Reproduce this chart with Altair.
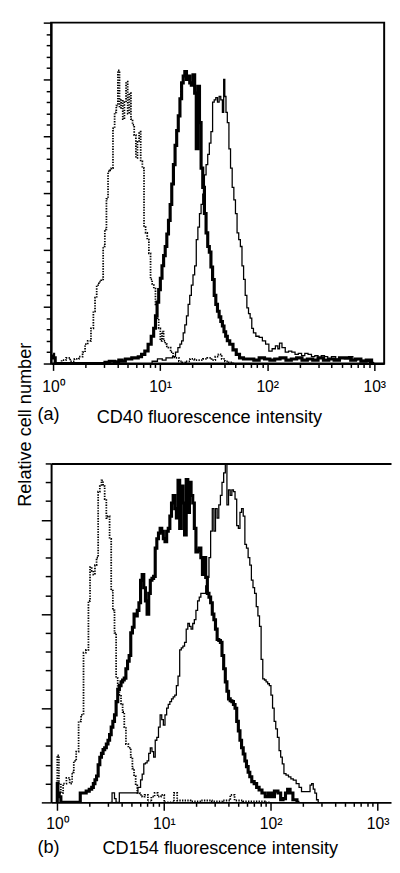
import numpy as np
import pandas as pd
import altair as alt

FONT = "Liberation Sans"

# ---------------- Panel (a): CD40 ----------------
# log10(fluorescence intensity) and relative cell count
a_iso_log = [0.00, 0.06, 0.10, 0.14, 0.18, 0.22, 0.262, 0.29, 0.308, 0.339, 0.369, 0.384, 0.40, 0.415, 0.44, 0.46,
             0.476, 0.491, 0.506, 0.521, 0.537, 0.552, 0.567, 0.583, 0.598, 0.613, 0.628, 0.643, 0.659, 0.674,
             0.689, 0.705, 0.72, 0.735, 0.75, 0.766, 0.781, 0.796, 0.811, 0.826, 0.842, 0.857, 0.872, 0.887,
             0.903, 0.918, 0.933, 0.949, 0.964, 0.979, 0.994, 1.01, 1.025, 1.04, 1.055, 1.07, 1.086, 1.11,
             1.132, 1.16, 1.19, 1.22, 1.26, 1.30, 1.34, 1.38, 1.42, 1.46, 1.50, 1.53, 1.56, 1.59, 1.62, 1.66, 1.70]
a_iso_cnt = [0, 0, 0.3, 0.5, 0.2, 0.4, 0.6, 1.0, 1.7, 2.0, 3.1, 4.6, 5.8, 6.9, 7.2, 7.4,
             10.3, 11.8, 14.5, 16.9, 17.0, 17.2, 20.7, 22.1, 22.7, 25.8, 22.5, 23.2, 21.5, 23.0,
             24.8, 22.0, 23.8, 21.5, 21.0, 20.1, 18.1, 19.5, 20.4, 17.8, 17.2, 12.0, 11.5, 10.9,
             9.7, 7.4, 7.0, 6.6, 5.2, 4.0, 3.1, 2.0, 2.8, 2.0, 1.7, 1.5, 1.4, 1.0,
             0.54, 0.5, 0.2, 0.1, 0.2, 0.4, 0.3, 0.3, 0.4, 0.5, 0.3, 0.6, 0.8, 0.4, 0.2, 0.1, 0]

a_thick_log = [0.00, 0.01, 0.03, 0.47, 0.50, 0.55, 0.60, 0.628, 0.66, 0.69, 0.72, 0.75, 0.78, 0.811, 0.842,
               0.872, 0.903, 0.93, 0.949, 0.964, 0.979, 0.994, 1.01, 1.025, 1.04, 1.055, 1.07, 1.086, 1.101,
               1.116, 1.132, 1.147, 1.162, 1.177, 1.193, 1.208, 1.223, 1.238, 1.254, 1.269, 1.284, 1.299,
               1.315, 1.33, 1.345, 1.36, 1.375, 1.39, 1.406, 1.421, 1.437, 1.452, 1.467, 1.482, 1.498,
               1.512, 1.528, 1.543, 1.559, 1.574, 1.589, 1.604, 1.62, 1.635, 1.665, 1.696, 1.726, 1.757,
               1.80, 1.85, 1.90, 1.95, 2.00, 2.05, 2.09, 2.15, 2.20, 2.25, 2.30, 2.35, 2.40, 2.45, 2.50,
               2.55, 2.60, 2.65, 2.70, 2.76, 2.80, 2.85, 2.90, 2.95, 3.00]
a_thick_cnt = [0.8, 0.5, 0, 0, 0.1, 0.2, 0.15, 0.3, 0.2, 0.4, 0.4, 0.5, 0.5, 0.6, 0.8,
               1.1, 1.7, 2.4, 3.1, 4.2, 5.4, 6.5, 7.5, 8.6, 9.5, 10.3, 11.4, 12.6, 14.0,
               15.8, 17.5, 19.2, 20.5, 21.8, 23.3, 24.7, 25.3, 25.7, 25.0, 25.3, 24.7, 24.5,
               25.4, 23.8, 18.9, 24.4, 21.2, 17.2, 15.5, 13.2, 11.5, 10.3, 9.8, 8.5, 7.4,
               6.0, 5.2, 4.6, 4.1, 3.7, 3.3, 2.8, 2.4, 2.0, 1.7, 1.2, 0.8, 0.5,
               0.4, 0.4, 0.3, 0.5, 0.4, 0.3, 0.4, 0.5, 0.3, 0.4, 0.5, 0.3, 0.4, 0.3, 0.5,
               0.3, 0.4, 0.3, 0.5, 0.5, 0.3, 0.4, 0.2, 0.3, 0]

a_thin_log = [0.90, 0.95, 1.0, 1.04, 1.07, 1.10, 1.132, 1.155, 1.177, 1.193, 1.208, 1.223, 1.238, 1.254,
              1.269, 1.284, 1.299, 1.315, 1.33, 1.345, 1.36, 1.375, 1.39, 1.406, 1.421, 1.437, 1.452, 1.467,
              1.482, 1.498, 1.512, 1.528, 1.543, 1.559, 1.574, 1.589, 1.598, 1.61, 1.62, 1.635, 1.65, 1.665,
              1.681, 1.696, 1.711, 1.726, 1.742, 1.757, 1.772, 1.787, 1.802, 1.818, 1.833, 1.848, 1.864,
              1.879, 1.909, 1.94, 1.97, 2.00, 2.031, 2.061, 2.092, 2.107, 2.123, 2.153, 2.184, 2.214, 2.245,
              2.275, 2.306, 2.336, 2.366, 2.397, 2.43, 2.46, 2.49, 2.52, 2.55, 2.58, 2.62, 2.66, 2.70, 2.74,
              2.78, 2.82, 2.855, 2.89, 2.93, 2.977, 3.00]
a_thin_cnt = [0, 0.2, 0.4, 0.3, 0.5, 0.5, 0.6, 1.0, 1.4, 1.7, 2.0, 2.7, 3.4, 4.2,
              5.2, 6.0, 6.9, 7.8, 8.6, 10.9, 12.0, 13.2, 14.0, 14.9, 16.6, 17.5, 18.4, 19.4,
              20.4, 23.0, 23.2, 23.4, 23.0, 23.5, 23.2, 22.1, 25.0, 23.5, 22.1, 21.2, 18.9, 17.2,
              15.5, 14.4, 13.2, 11.5, 10.9, 10.3, 8.6, 7.4, 6.0, 4.9, 4.4, 4.0, 3.1,
              2.7, 2.4, 2.3, 2.0, 1.7, 1.1, 1.3, 1.55, 1.3, 1.8, 1.4, 1.0, 1.1, 1.0,
              0.8, 0.9, 0.7, 0.9, 0.8, 0.6, 0.7, 0.5, 0.7, 0.6, 0.4, 0.6, 0.4, 0.5, 0.4,
              0.6, 0.3, 0.4, 0.3, 0.2, 0.1, 0]

# ---------------- Panel (b): CD154 ----------------
b_iso_log = [0.0, 0.006, 0.03, 0.043, 0.073, 0.104, 0.134, 0.15, 0.165, 0.195, 0.21, 0.241, 0.256, 0.287,
             0.302, 0.317, 0.333, 0.348, 0.363, 0.378, 0.393, 0.409, 0.424, 0.439, 0.454, 0.47, 0.485, 0.5,
             0.515, 0.531, 0.546, 0.561, 0.576, 0.592, 0.607, 0.622, 0.638, 0.653, 0.683, 0.698, 0.714,
             0.729, 0.744, 0.759, 0.79, 0.805, 0.836, 0.866, 0.90, 0.927, 0.958, 0.988, 1.02, 1.08, 1.11,
             1.14, 1.20, 1.30, 1.40, 1.50, 1.60, 1.644, 1.68, 1.80, 1.90, 1.99]
b_iso_cnt = [0, 2.5, 1.0, 0.5, 1.0, 1.3, 1.0, 1.6, 2.2, 2.7, 4.3, 4.65, 7.95, 8.1,
             10.7, 12.5, 12.3, 12.1, 12.6, 13.0, 16.5, 16.8, 17.1, 16.8, 16.1, 15.1, 15.2, 14.0,
             11.25, 10.2, 9.0, 6.6, 6.0, 5.7, 5.2, 4.8, 4.0, 3.1, 2.9, 2.4, 1.8,
             1.4, 0.9, 0.5, 0.4, 0.3, 0.4, 0, 0.3, 0.5, 0.3, 0.4, 0, 0, 0.5,
             0.1, 0.1, 0.05, 0.1, 0.05, 0.1, 0.4, 0.1, 0.05, 0.05, 0]

b_thick_log = [0.0, 0.006, 0.012, 0.03, 0.043, 0.21, 0.226, 0.26, 0.287, 0.317, 0.333, 0.348, 0.363, 0.378,
               0.393, 0.409, 0.424, 0.439, 0.454, 0.47, 0.485, 0.5, 0.515, 0.531, 0.546, 0.561, 0.576, 0.592,
               0.607, 0.622, 0.637, 0.653, 0.668, 0.683, 0.698, 0.714, 0.729, 0.744, 0.759, 0.775, 0.79,
               0.805, 0.82, 0.836, 0.851, 0.866, 0.881, 0.897, 0.912, 0.927, 0.942, 0.958, 0.973, 0.988,
               1.003, 1.019, 1.034, 1.049, 1.064, 1.08, 1.095, 1.11, 1.125, 1.141, 1.156, 1.171, 1.186,
               1.202, 1.217, 1.232, 1.247, 1.263, 1.278, 1.293, 1.308, 1.324, 1.339, 1.354, 1.369, 1.384,
               1.4, 1.415, 1.43, 1.446, 1.461, 1.476, 1.491, 1.507, 1.522, 1.537, 1.552, 1.568, 1.583,
               1.598, 1.613, 1.629, 1.644, 1.659, 1.674, 1.69, 1.705, 1.72, 1.735, 1.751, 1.766, 1.781,
               1.797, 1.812, 1.834, 1.857, 1.88, 1.903, 1.934, 1.964, 1.995, 2.02, 2.05, 2.086, 2.101,
               2.13, 2.147, 2.17, 2.193, 2.223, 2.269]
b_thick_cnt = [0, 1.0, 0.5, 0.3, 0, 0, 0.5, 0.5, 0.6, 0.7, 0.8, 1.0, 1.2, 1.4,
               2.0, 2.4, 2.6, 2.8, 2.9, 3.1, 3.3, 3.6, 4.0, 4.3, 4.65, 5.35, 6.0, 6.2,
               6.4, 6.5, 6.6, 7.1, 7.5, 7.8, 9.0, 9.3, 10.0, 9.9, 10.2, 10.6, 11.8,
               12.1, 11.4, 10.7, 10.0, 11.1, 11.8, 11.9, 12.0, 13.5, 14.0, 14.3, 14.55, 14.4,
               14.0, 13.85, 14.4, 14.55, 15.2, 15.9, 16.3, 15.6, 15.1, 17.1, 14.55, 16.8, 15.9,
               14.2, 17.15, 15.4, 17.0, 16.3, 15.9, 14.55, 13.3, 13.4, 13.5, 13.0, 12.1, 13.0,
               11.95, 11.1, 10.9, 10.6, 10.0, 9.7, 9.2, 8.65, 8.6, 8.5, 7.8, 7.1, 6.4,
               5.9, 5.5, 5.4, 5.35, 5.2, 5.0, 4.3, 3.8, 3.3, 2.9, 2.57, 2.2, 1.9,
               1.6, 1.36, 1.1, 1.0, 0.8, 0.66, 0.5, 0.3, 0.5, 0.3, 0.6, 0.5, 0.14,
               0.2, 0.5, 0.7, 0.5, 0.14, 0]

b_thin_log = [0.50, 0.531, 0.546, 0.56, 0.607, 0.64, 0.70, 0.74, 0.775, 0.79, 0.805, 0.82, 0.836, 0.851,
              0.866, 0.881, 0.897, 0.912, 0.927, 0.942, 0.958, 0.973, 0.988, 1.003, 1.019, 1.034, 1.049,
              1.064, 1.08, 1.095, 1.11, 1.125, 1.141, 1.156, 1.171, 1.186, 1.202, 1.217, 1.232, 1.247,
              1.263, 1.278, 1.293, 1.308, 1.324, 1.339, 1.354, 1.369, 1.384, 1.4, 1.415, 1.43, 1.446,
              1.461, 1.476, 1.491, 1.507, 1.522, 1.537, 1.552, 1.568, 1.583, 1.598, 1.613, 1.629, 1.644,
              1.659, 1.674, 1.69, 1.705, 1.72, 1.735, 1.751, 1.766, 1.781, 1.797, 1.812, 1.827, 1.842,
              1.857, 1.873, 1.888, 1.903, 1.918, 1.934, 1.95, 1.964, 1.98, 1.995, 2.01, 2.025, 2.04,
              2.055, 2.071, 2.086, 2.101, 2.116, 2.132, 2.155, 2.178, 2.2, 2.223, 2.254, 2.277, 2.3,
              2.33, 2.361, 2.376, 2.391, 2.406, 2.421, 2.437, 2.452]
b_thin_cnt = [0, 0.5, 0.2, 0, 0.5, 0.5, 0.5, 0.5, 0.8, 1.2, 1.5, 2.05, 2.1, 2.2,
              2.6, 2.9, 2.7, 2.4, 3.3, 3.45, 4.0, 4.65, 4.4, 4.1, 4.65, 5.0, 5.2,
              5.35, 5.5, 5.6, 5.7, 6.2, 6.7, 8.1, 8.2, 8.3, 8.5, 9.2, 9.5, 9.35,
              9.2, 9.5, 9.7, 10.2, 10.7, 10.9, 11.1, 11.1, 11.1, 11.5, 11.95, 13.0, 14.4,
              15.6, 14.4, 15.6, 15.1, 15.8, 16.3, 17.0, 17.5, 18.0, 15.8, 16.6, 16.3, 16.6,
              16.5, 16.1, 14.7, 14.55, 15.4, 15.6, 15.2, 13.7, 13.5, 13.0, 12.6, 11.8, 11.4,
              11.1, 10.4, 9.9, 9.35, 7.6, 6.56, 6.5, 6.4, 6.3, 6.2, 5.7, 5.0, 4.3,
              3.9, 3.45, 2.75, 2.4, 2.05, 1.53, 1.45, 1.36, 1.25, 1.18, 1.0, 0.8, 0.57,
              0.57, 0.57, 0.92, 1.0, 0.7, 0.49, 0.14, 0]

# axis tick values (log decades and their minor subdivisions) and labels
x_tick_values = [k * 10 ** d for d in range(3) for k in range(1, 10)] + [1000]
superscripts = ["\u2070", "\u00b9", "\u00b2", "\u00b3"]

MAJ_X = "abs(log(datum.value)/LN10 - round(log(datum.value)/LN10)) < 0.01"
sup_list = "[" + ",".join("'" + s + "'" for s in superscripts) + "]"
LABEL_X = MAJ_X + " ? '10' + " + sup_list + "[round(log(datum.value)/LN10)] : ''"
MAJ_Y = "datum.value % 5 == 0"


def curve_df(logs, cnts):
    return pd.DataFrame({"intensity": np.power(10.0, np.array(logs, dtype=float)),
                         "count": np.array(cnts, dtype=float)})


def panel(iso, thin, thick, xdomain, ymax, w, h, xtitle, tag, title_x, title_y,
          tag_y, x_major, x_minor, y_major, y_minor, label_pad, boxed, ytitle=None):
    xscale = alt.Scale(type="log", domain=xdomain, nice=False)
    yscale = alt.Scale(domain=[0, ymax], nice=False, zero=True)
    xaxis = alt.Axis(
        values=x_tick_values, labelExpr=LABEL_X, grid=False,
        tickSize={"condition": {"test": MAJ_X, "value": x_major}, "value": x_minor},
        tickWidth=1.5, tickColor="black", domainColor="black", domainWidth=2,
        labelFont=FONT, labelFontSize=16, labelColor="black", labelBaseline="alphabetic",
        labelPadding=label_pad, labelOverlap=False, labelFlush=False, labelBound=False,
        title=xtitle, titleFont=FONT, titleFontSize=18.5, titleFontWeight="normal",
        titleColor="black", titleX=title_x, titleY=title_y, titleAlign="left",
        titleBaseline="alphabetic", titleAngle=0)
    yaxis_kwargs = dict(
        values=list(range(0, ymax + 1)), labels=False, grid=False,
        tickSize={"condition": {"test": MAJ_Y, "value": y_major}, "value": y_minor},
        tickWidth=1.5, tickColor="black", domainColor="black", domainWidth=2)
    if ytitle:
        yaxis = alt.Axis(title=ytitle, titleFont=FONT, titleFontSize=18.5,
                         titleFontWeight="normal", titleColor="black", titleAngle=270,
                         titleX=-21, titleY=410, titleAlign="center",
                         titleBaseline="alphabetic", **yaxis_kwargs)
    else:
        yaxis = alt.Axis(title="", **yaxis_kwargs)

    def line(df, width, dash=None):
        mk = dict(color="black", strokeWidth=width, interpolate="step", clip=True)
        if dash:
            mk["strokeDash"] = dash
        return alt.Chart(df).mark_line(**mk).encode(
            x=alt.X("intensity:Q", scale=xscale, axis=xaxis),
            y=alt.Y("count:Q", scale=yscale, axis=yaxis),
            order=alt.Order("intensity:Q"))

    tag_layer = alt.Chart(pd.DataFrame({"tag": [tag]})).mark_text(
        align="left", baseline="alphabetic", font=FONT, fontSize=18.5, color="black"
    ).encode(text="tag:N", x=alt.value(-14), y=alt.value(tag_y))

    curves = alt.layer(line(iso, 1.8, [1.4, 1.3]), line(thin, 1.3), line(thick, 3.2), tag_layer)
    if boxed:
        ch = curves.properties(
            width=w, height=h, view=alt.ViewBackground(stroke="black", strokeWidth=2))
    else:
        top_edge = alt.Chart(iso).mark_point(opacity=0).encode(
            x=alt.X("intensity:Q", scale=xscale,
                    axis=alt.Axis(orient="top", labels=False, ticks=False, grid=False,
                                  domainColor="black", domainWidth=2, title="")))
        ch = alt.layer(curves, top_edge).resolve_axis(x="independent").properties(
            width=w, height=h, view=alt.ViewBackground(stroke="transparent"))
    return ch


top = panel(curve_df(a_iso_log, a_iso_cnt), curve_df(a_thin_log, a_thin_cnt),
            curve_df(a_thick_log, a_thick_cnt),
            xdomain=[0.9587, 1237], ymax=30, w=340, h=348,
            xtitle="CD40 fluorescence intensity", tag="(a)", title_x=46, title_y=60,
            tag_y=406, x_major=7, x_minor=4, y_major=8, y_minor=5, label_pad=22,
            boxed=True, ytitle="Relative cell number")

bottom = panel(curve_df(b_iso_log, b_iso_cnt), curve_df(b_thin_log, b_thin_cnt),
               curve_df(b_thick_log, b_thick_cnt),
               xdomain=[0.8813, 1337], ymax=18, w=347, h=346,
               xtitle="CD154 fluorescence intensity", tag="(b)", title_x=52, title_y=52,
               tag_y=398, x_major=8, x_minor=4, y_major=10, y_minor=6, label_pad=19,
               boxed=False)

chart = alt.vconcat(top, bottom, spacing=102, bounds="flush").properties(
    padding={"left": 7, "top": 4, "right": 0, "bottom": 0},
    background="white")

chart.save("out.html", embed_options={"renderer": "svg", "actions": False})
